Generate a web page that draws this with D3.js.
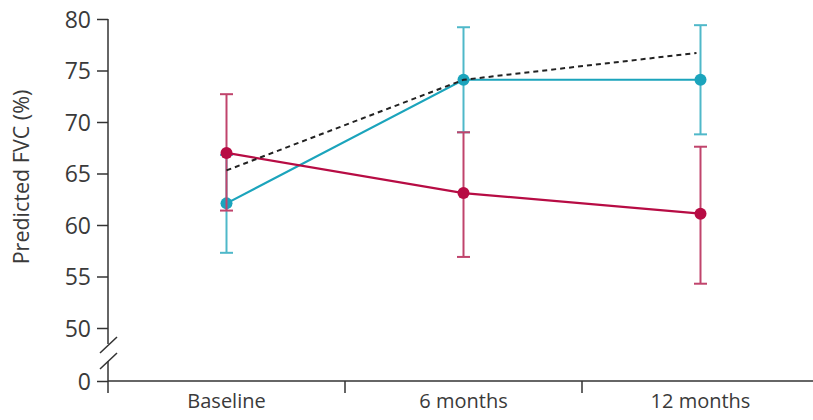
<!DOCTYPE html>
<html>
<head>
<meta charset="utf-8">
<script src="https://cdn.jsdelivr.net/npm/d3@7/dist/d3.min.js"></script>
<style>
  body { margin: 0; background: #fff; }
  text { font-family: "Open Sans", sans-serif; fill: #3a3a3a; }
</style>
</head>
<body>
<script>
// Categories and tick labels
var categories = ["Baseline", "6 months", "12 months"];
var yTicks = [0, 50, 55, 60, 65, 70, 75, 80];

// Teal series: mean and error bar ends
var tealMean = [62.1, 74.1, 74.1];
var tealLow  = [57.3, 69.0, 68.8];
var tealHigh = [66.8, 79.2, 79.4];

// Crimson series
var redMean = [67.0, 63.1, 61.1];
var redLow  = [61.4, 56.9, 54.3];
var redHigh = [72.7, 69.0, 67.6];

// Dashed reference line
var dashVals = [65.3, 74.1, 76.7];

var width = 813, height = 420;
var tealColor = "#1ba4bc", tealBar = "#4fb8c9";
var redColor = "#b70c44", redBar = "#c0446c";

var svg = d3.select("body").append("svg").attr("width", width).attr("height", height);

//Scales.
var x = d3.scaleBand().domain(categories).range([108, 819]);
var y = d3.scaleLinear().domain([0, 50, 80]).range([381, 328, 19]);
var cx = function(c) { return x(c) + x.bandwidth() / 2; };

//Y axis with ticks and labels.
var yAxis = svg.append("g").attr("transform", "translate(108,0)")
  .call(d3.axisLeft(y).tickValues(yTicks).tickSize(11).tickPadding(6));
yAxis.select(".domain").remove();
yAxis.selectAll(".tick line").attr("stroke", "#333").attr("stroke-width", 1.5);
yAxis.selectAll(".tick text").style("font-size", "23px").attr("dy", "0.36em");

//Broken y axis line.
svg.append("line").attr("x1", 108).attr("x2", 108).attr("y1", y(80)).attr("y2", 344)
  .attr("stroke", "#333").attr("stroke-width", 1.5);
svg.append("line").attr("x1", 108).attr("x2", 108).attr("y1", 361).attr("y2", 393)
  .attr("stroke", "#333").attr("stroke-width", 1.5);
[[100, 353, 117, 337], [100, 369, 117, 353]].forEach(function(s) {
  svg.append("line").attr("x1", s[0]).attr("y1", s[1]).attr("x2", s[2]).attr("y2", s[3])
    .attr("stroke", "#333").attr("stroke-width", 1.5);
});

//X axis line with boundary ticks.
svg.append("line").attr("x1", 108).attr("x2", width).attr("y1", y(0)).attr("y2", y(0))
  .attr("stroke", "#333").attr("stroke-width", 1.5);
categories.slice(1).forEach(function(c) {
  svg.append("line").attr("x1", x(c)).attr("x2", x(c)).attr("y1", y(0)).attr("y2", y(0) + 12)
    .attr("stroke", "#333").attr("stroke-width", 1.5);
});
var xAxis = svg.append("g").attr("transform", "translate(0," + y(0) + ")")
  .call(d3.axisBottom(x).tickSize(0).tickPadding(13));
xAxis.select(".domain").remove();
xAxis.selectAll(".tick text").style("font-size", "20px").attr("dy", "0.71em");

//Axis title.
svg.append("text").attr("transform", "translate(29," + 177 + ") rotate(-90)")
  .attr("text-anchor", "middle").style("font-size", "21.5px").text("Predicted FVC (%)");

//Draw a series: error bars, line, points.
function drawSeries(mean, low, high, lineCol, barCol) {
  categories.forEach(function(c, i) {
    var px = cx(c);
    svg.append("line").attr("x1", px).attr("x2", px).attr("y1", y(low[i])).attr("y2", y(high[i]))
      .attr("stroke", barCol).attr("stroke-width", 2);
    [low[i], high[i]].forEach(function(v) {
      svg.append("line").attr("x1", px - 6.5).attr("x2", px + 6.5).attr("y1", y(v)).attr("y2", y(v))
        .attr("stroke", barCol).attr("stroke-width", 2);
    });
  });
  var line = d3.line().x(function(d, i) { return cx(categories[i]); }).y(function(d) { return y(d); });
  svg.append("path").datum(mean).attr("d", line).attr("fill", "none")
    .attr("stroke", lineCol).attr("stroke-width", 2.2);
  svg.selectAll(null).data(mean).enter().append("circle")
    .attr("cx", function(d, i) { return cx(categories[i]); })
    .attr("cy", function(d) { return y(d); })
    .attr("r", 6).attr("fill", lineCol);
}

drawSeries(tealMean, tealLow, tealHigh, tealColor, tealBar);
drawSeries(redMean, redLow, redHigh, redColor, redBar);

//Dashed line.
var dashLine = d3.line().x(function(d, i) { return cx(categories[i]) - (i === 2 ? 4 : 0); }).y(function(d) { return y(d); });
svg.append("path").datum(dashVals).attr("d", dashLine).attr("fill", "none")
  .attr("stroke", "#222").attr("stroke-width", 2).attr("stroke-dasharray", "5,4");
</script>
</body>
</html>
